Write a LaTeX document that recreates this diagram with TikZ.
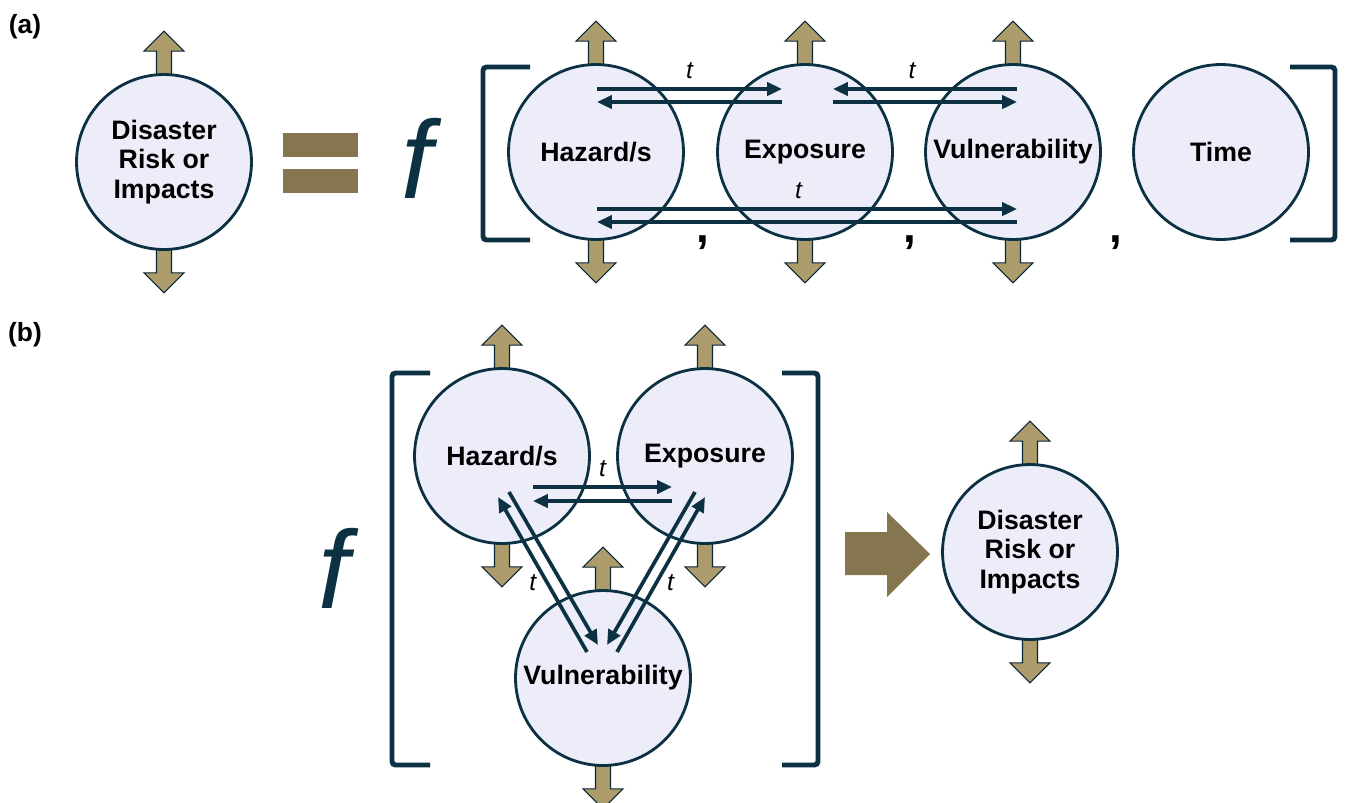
\documentclass[tikz,border=0pt]{standalone}
\usepackage{fontspec}
\setmainfont{Liberation Sans}
\usetikzlibrary{arrows.meta,backgrounds}

\definecolor{navy}{HTML}{0C3142}
\definecolor{lav}{HTML}{EDEDF9}
\definecolor{sand}{HTML}{AC9C6C}
\definecolor{olive}{HTML}{85764F}

\tikzset{
  factor/.style={circle,draw=navy,line width=1.6pt,fill=lav,minimum size=3.5cm,
    inner sep=0pt,align=center,font=\fontsize{15.2}{16.6}\selectfont\bfseries},
  link/.style={draw=navy,line width=2.1pt,-{Triangle[length=8.5pt,width=7.5pt]}},
  tlab/.style={font=\fontsize{14}{16}\selectfont\itshape,inner sep=1pt},
  bracket/.style={draw=navy,line width=2.8pt,rounded corners=2pt},
  panel/.style={font=\fontsize{15}{17}\selectfont\bfseries},
  fsym/.style={font=\fontsize{63}{70}\selectfont\itshape,text=navy,inner sep=0pt,anchor=base west},
  comma/.style={font=\fontsize{26}{30}\selectfont\bfseries},
  pics/flowup/.style={code={
    \draw[fill=sand,draw=navy!80!black,line width=0.6pt]
      (-7.5,2) -- (-7.5,-22) -- (-20,-22) -- (0,-42) -- (20,-22) -- (7.5,-22) -- (7.5,2) -- cycle;
  }}
}

\begin{document}
\begin{tikzpicture}[x=0.02cm,y=-0.02cm]
  \useasboundingbox (0,0) rectangle (1345,802);

  % (a)
  \node[panel] (labA) at (25,27) {(a)};
  \node[factor] (riskA) at (164,162) {Disaster\\Risk or\\Impacts};
  \fill[olive] (283,133) rectangle (358,157);
  \fill[olive] (283,169) rectangle (358,193);
  \node[fsym] (fA) at (401,198) {f};
  \draw[bracket] (530,67) -- (483,67) -- (483,240) -- (530,240);
  \draw[bracket] (1290,67) -- (1335,67) -- (1335,240) -- (1290,240);

  \node[factor] (hazA) at (596,152) {Hazard/s};
  \node[factor] (expA) at (805,152) {Exposure};
  \node[factor] (vulA) at (1013,152) {Vulnerability};
  \node[factor] (timeA) at (1221,152) {Time};
  \foreach \x in {703,910,1116} {
    \node[comma] at (\x,243) {,};
  }

  \draw[link] ([shift={(1,-63)}]hazA.center) -- node[tlab,above=4pt] {t} ([shift={(-23,-63)}]expA.center);
  \draw[link] ([shift={(-23,-50)}]expA.center) -- ([shift={(1,-50)}]hazA.center);
  \draw[link] ([shift={(4,-63)}]vulA.center) -- node[tlab,above=4pt,pos=0.57] {t} ([shift={(28,-63)}]expA.center);
  \draw[link] ([shift={(28,-50)}]expA.center) -- ([shift={(4,-50)}]vulA.center);
  \draw[link] ([shift={(1,57)}]hazA.center) -- node[tlab,above=4pt,pos=0.48] {t} ([shift={(4,57)}]vulA.center);
  \draw[link] ([shift={(4,70)}]vulA.center) -- ([shift={(1,70)}]hazA.center);

  % (b)
  \node[panel] (labB) at (25,335) {(b)};
  \node[fsym] (fB) at (318,608) {f};
  \draw[bracket] (430,373) -- (392,373) -- (392,765) -- (430,765);
  \draw[bracket] (782,373) -- (818,373) -- (818,765) -- (782,765);

  \node[factor] (hazB) at (502,456) {Hazard/s};
  \node[factor] (expB) at (705,456) {Exposure};
  \node[factor] (vulB) at (603,678) {Vulnerability};
  \node[factor] (riskB) at (1030,552) {Disaster\\Risk or\\Impacts};

  \draw[link] ([shift={(31,31)}]hazB.center) -- node[tlab,above=4pt] {t} ([shift={(-33,31)}]expB.center);
  \draw[link] ([shift={(-33,45)}]expB.center) -- ([shift={(31,45)}]hazB.center);
  \draw[link] ([shift={(7,36)}]hazB.center) -- ([shift={(-5,-33)}]vulB.center);
  \draw[link] ([shift={(-16,-26)}]vulB.center) -- node[tlab,left=4pt,pos=0.45] {t} ([shift={(-4,41)}]hazB.center);
  \draw[link] ([shift={(-10,36)}]expB.center) -- ([shift={(4,-33)}]vulB.center);
  \draw[link] ([shift={(14,-26)}]vulB.center) -- node[tlab,right=4pt,pos=0.45] {t} ([shift={(0,41)}]expB.center);

  \fill[olive] (845,532) -- (887,532) -- (887,512) -- (930,554) -- (887,597) -- (887,575) -- (845,575) -- cycle;

  % up and down flows
  \begin{scope}[on background layer]
    \foreach \n in {riskA,hazA,expA,vulA,hazB,expB,vulB,riskB} {
      \pic at (\n.north) {flowup};
      \pic[rotate=180] at (\n.south) {flowup};
    }
  \end{scope}
\end{tikzpicture}
\end{document}
